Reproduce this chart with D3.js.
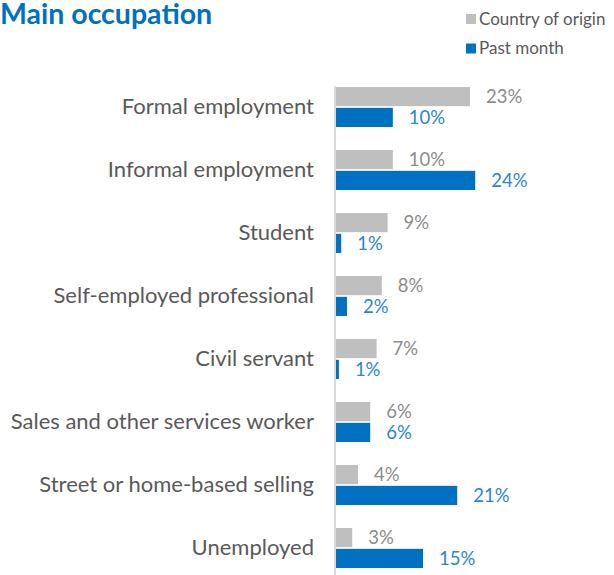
<!DOCTYPE html>
<html>
<head>
<meta charset="utf-8">
<script src="https://cdn.jsdelivr.net/npm/d3@7"></script>
<style>
  body { margin: 0; background: #fff; }
  svg { font-family: Lato, "Open Sans", sans-serif; }
</style>
</head>
<body>
<svg id="grafico"></svg>
<script>
// dados
const categorias = [
  "Formal employment",
  "Informal employment",
  "Student",
  "Self-employed professional",
  "Civil servant",
  "Sales and other services worker",
  "Street or home-based selling",
  "Unemployed"
];
const series = ["Country of origin", "Past month"];
const paisOrigem = [23.1, 9.8, 8.9, 7.9, 7.0, 5.9, 3.8, 2.8];
const mesPassado = [9.8, 24.0, 0.9, 1.9, 0.5, 5.9, 20.9, 15.0];
const rotulosOrigem = ["23%", "10%", "9%", "8%", "7%", "6%", "4%", "3%"];
const rotulosMes = ["10%", "24%", "1%", "2%", "1%", "6%", "21%", "15%"];

const cores = { "Country of origin": "#bfbfbf", "Past month": "#0070c0" };
const coresRotulo = { "Country of origin": "#8c8c8c", "Past month": "#2a86cc" };

let width = 614, height = 575;
let svg = d3.select("#grafico")
  .attr("width", width)
  .attr("height", height)
  .attr("viewBox", "0 0 " + width + " " + height);

// monta as linhas da tabela
let linhas = categorias.map((c, i) => ({
  cat: c,
  valores: [
    { serie: series[0], v: paisOrigem[i], rotulo: rotulosOrigem[i] },
    { serie: series[1], v: mesPassado[i], rotulo: rotulosMes[i] }
  ]
}));

let y = d3.scaleBand().domain(categorias).range([75.5, 579.5])
  .paddingInner(0.365).paddingOuter(0.1825);
let y1 = d3.scaleBand().domain(series).range([0, y.bandwidth()]).paddingInner(0.08);
let x = d3.scaleLinear().domain([0, 25]).range([336, 481]);

// título
svg.append("text")
  .attr("x", 0).attr("y", 24)
  .attr("fill", "#0070c0")
  .attr("font-size", 28.5)
  .attr("font-weight", "bold")
  .text("Main occupation");

// legenda
let leg = svg.append("g").selectAll("g").data(series).enter().append("g")
  .attr("transform", (d, i) => "translate(466," + (19 + i * 29.5) + ")");
leg.append("rect")
  .attr("x", 0).attr("y", -5).attr("width", 10).attr("height", 10)
  .attr("fill", d => cores[d]);
leg.append("text")
  .attr("x", 13).attr("dy", "0.35em")
  .attr("font-size", 17).attr("fill", "#595959")
  .text(d => d);

// eixo de categorias
let eixo = svg.append("g")
  .attr("transform", "translate(335,0)")
  .call(d3.axisLeft(y).tickSize(0).tickPadding(21));
eixo.select(".domain").remove();
eixo.selectAll("text")
  .attr("font-family", "Lato, sans-serif")
  .attr("font-size", 22)
  .attr("fill", "#595959");

svg.append("line")
  .attr("x1", 335).attr("x2", 335)
  .attr("y1", 86).attr("y2", 575)
  .attr("stroke", "#d9d9d9").attr("stroke-width", 2);

// barras
let grupos = svg.append("g").selectAll("g").data(linhas).enter().append("g")
  .attr("transform", d => "translate(0," + y(d.cat) + ")");

grupos.selectAll("rect").data(d => d.valores).enter().append("rect")
  .attr("x", x(0))
  .attr("y", d => y1(d.serie))
  .attr("width", d => x(d.v) - x(0))
  .attr("height", y1.bandwidth())
  .attr("fill", d => cores[d.serie]);

grupos.selectAll("text").data(d => d.valores).enter().append("text")
  .attr("x", d => x(d.v) + 16)
  .attr("y", d => y1(d.serie) + y1.bandwidth() / 2)
  .attr("dy", "0.35em")
  .attr("font-size", 18.5)
  .attr("fill", d => coresRotulo[d.serie])
  .text(d => d.rotulo);
</script>
</body>
</html>
